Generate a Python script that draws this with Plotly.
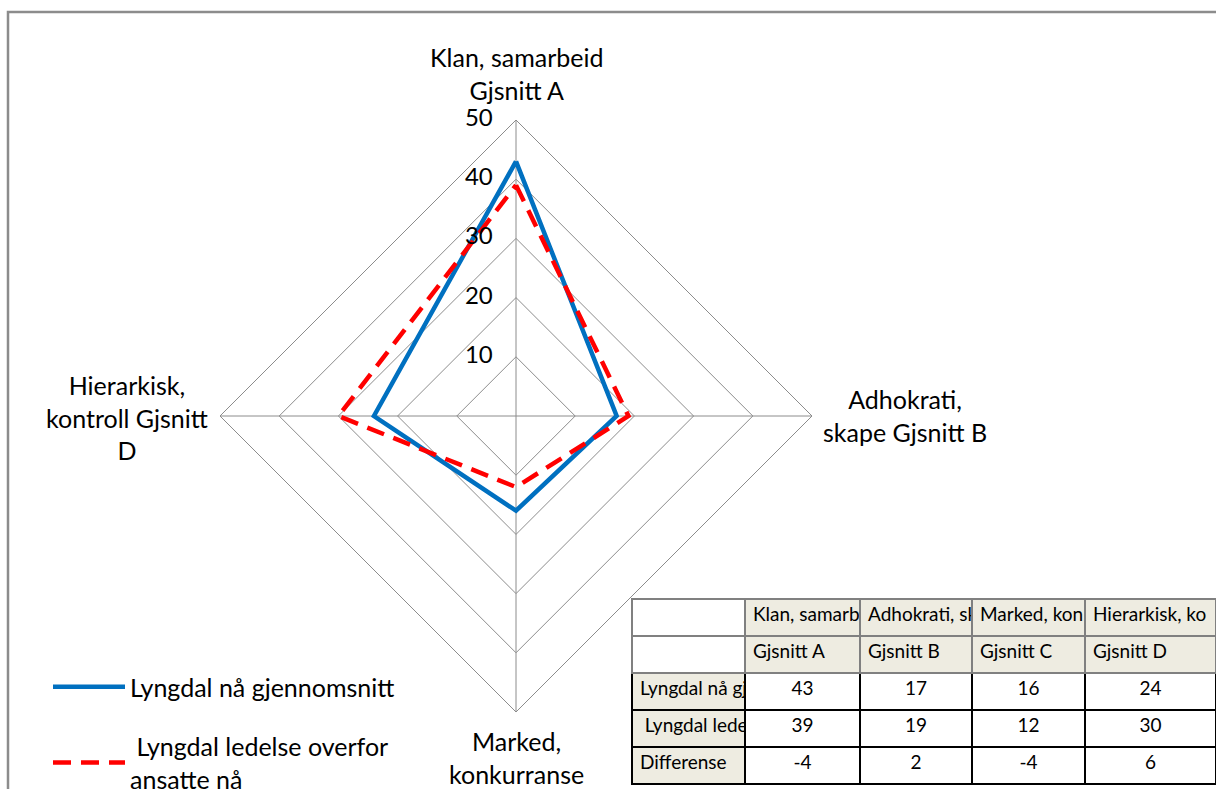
import plotly.graph_objects as go

categories = ["Klan, samarbeid<br>Gjsnitt A", "Adhokrati,<br>skape Gjsnitt B",
              "Marked,<br>konkurranse", "Hierarkisk,<br>kontroll Gjsnitt<br>D"]
series_names = ["Lyngdal nå gjennomsnitt", " Lyngdal ledelse overfor<br>ansatte nå"]
naa_values = [43, 17, 16, 24]
ledelse_values = [39, 19, 12, 30]
differense_values = [-4, 2, -4, 6]
radial_ticks = [0, 10, 20, 30, 40, 50]

table_head = ["", "Klan, samarb", "Adhokrati, sk", "Marked, kon", "Hierarkisk, ko"]
table_sub = ["", "Gjsnitt A", "Gjsnitt B", "Gjsnitt C", "Gjsnitt D"]
row_labels = ["Lyngdal nå gj", " Lyngdal lede", "Differense"]

FONT = "Lato"
W, H = 1216, 789
cx, cy, R = 516, 416, 296

def nb(s):
    return s.replace(" ", "\u00a0")

fig = go.Figure()
fig.add_trace(go.Scatterpolar(
    r=naa_values + naa_values[:1], theta=categories + categories[:1],
    mode="lines", name=series_names[0], legendgroup="a",
    line=dict(color="#0070C0", width=4.5)))
fig.add_trace(go.Scatterpolar(
    r=ledelse_values + ledelse_values[:1], theta=categories + categories[:1],
    mode="lines", name=series_names[1], legendgroup="b",
    line=dict(color="#FF0000", width=4.5, dash="18px,10px")))

# radial scale labels, placed left of the vertical spoke
pad = "<span style='color:rgba(0,0,0,0);font-size:20px'>00</span>"
fig.add_trace(go.Scatterpolar(
    r=radial_ticks, theta=[categories[0]] * len(radial_ticks),
    mode="text", text=[f"{v}{pad}" for v in radial_ticks],
    textposition="middle left", showlegend=False, hoverinfo="skip",
    textfont=dict(family=FONT, size=24, color="black")))

# table
beige = "#EEECE1"
head_vals = [[nb(h), nb(s)] for h, s in zip(table_head, table_sub)]
cols, fills = [], []
for j in range(5):
    if j == 0:
        cols.append([nb(s) for s in row_labels])
        fills.append(beige)
    else:
        cols.append([naa_values[j-1], ledelse_values[j-1], differense_values[j-1]])
        fills.append("white")

fig.add_trace(go.Table(
    domain=dict(x=[632/W, 1.0], y=[0.0, (H-599)/H]),
    columnwidth=[113, 115, 112, 113, 131],
    header=dict(values=head_vals, height=37,
                fill_color=["white"] + [beige]*4,
                line=dict(color="#808080", width=1.5),
                align="left",
                font=dict(family=FONT, size=19, color="black")),
    cells=dict(values=cols, height=37,
               fill_color=fills,
               line=dict(color="black", width=1.5),
               align=["left", "center", "center", "center", "center"],
               font=dict(family=FONT, size=19, color="black")),
))

# category labels around the radar
label_pos = [(516, 73), (905, 416), (516, 757), (127, 417)]
annotations = []
for text, (px, py) in zip(categories, label_pos):
    annotations.append(dict(text=text, x=px/W, y=(H-py)/H, xref="paper", yref="paper",
                            xanchor="center", yanchor="middle", showarrow=False,
                            align="center", font=dict(family=FONT, size=25, color="black")))

fig.update_layout(
    width=W, height=H,
    margin=dict(l=0, r=0, t=0, b=0, autoexpand=False),
    paper_bgcolor="white",
    font=dict(family=FONT, size=20, color="black"),
    polar=dict(
        domain=dict(x=[(cx-R)/W, (cx+R)/W], y=[(H-cy-R)/H, (H-cy+R)/H]),
        bgcolor="white",
        gridshape="linear",
        radialaxis=dict(range=[0, 50], tickvals=radial_ticks, angle=90,
                        showline=False, showgrid=True, gridcolor="#8C8C8C", gridwidth=1,
                        ticks="", showticklabels=False),
        angularaxis=dict(rotation=90, direction="clockwise",
                         showline=True, linecolor="#8C8C8C", linewidth=1,
                         gridcolor="#8C8C8C", gridwidth=1, ticks="",
                         showticklabels=False),
    ),
    showlegend=True,
    legend=dict(x=48/W, y=(H-664)/H, xanchor="left", yanchor="top",
                bgcolor="rgba(0,0,0,0)", font=dict(family=FONT, size=25),
                tracegroupgap=24, itemwidth=72),
    annotations=annotations,
    shapes=[dict(type="rect", xref="paper", yref="paper",
                 x0=8/W, x1=1.02, y0=-0.02, y1=(H-12)/H,
                 line=dict(color="#8C8C8C", width=2.5), fillcolor="rgba(0,0,0,0)",
                 layer="below")],
)

fig.write_html("out.html")
